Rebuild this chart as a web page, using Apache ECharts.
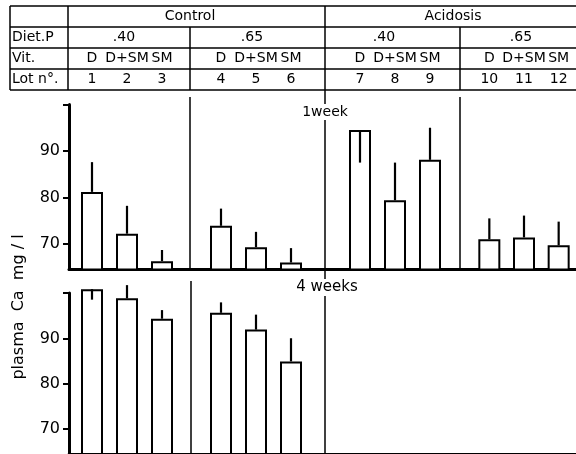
<!DOCTYPE html>
<html><head><meta charset="utf-8">
<script src="https://cdn.jsdelivr.net/npm/echarts@6/dist/echarts.min.js"></script>
<style>html,body{margin:0;padding:0;background:#fff}#c{width:576px;height:454px}</style>
</head><body><div id="c"></div><script>
// ---- data ----
const lots = ['1','2','3','4','5','6','7','8','9','10','11','12'];
const vitamins = ['D','D+SM','SM'];
const dietP = ['.40','.65','.40','.65'];
const treatments = ['Control','Acidosis'];
const rowHeads = ['Diet.P','Vit.','Lot n°.'];
const week1 = [81.2, 72.2, 66.3, 73.9, 69.3, 66.0, 94.5, 79.4, 88.1, 71.0, 71.4, 69.7];
const week1ErrEnd = [87.6, 78.2, 68.7, 77.6, 72.6, 69.1, 87.5, 87.5, 95.0, 75.5, 76.1, 74.8];
const week4 = [100.8, 98.8, 94.3, 95.6, 91.9, 84.9];
const week4ErrEnd = [98.5, 101.7, 96.2, 97.9, 95.2, 90.0];
const yTickLabels = [70, 80, 90];
const yTickMarks = [70, 80, 90, 100];
const panelTitles = ['1week', '4 weeks'];
const yTitle = 'plasma  Ca  mg / l';

// ---- layout ----
const FONT = 'DejaVu Sans';
const YMIN = 64.5, YMAX = 100, YHEAD = 3;
const panels = [{top: 104.5, height: 165}, {top: 293, height: 163}];
const groupLeft = [74.5, 203.5, 342.5, 472];
const groupW = 105;
const rowY = [16.5, 37.5, 58.5, 79.5];

const grid = [], xAxis = [], yAxis = [], series = [];
// frame grids (axis + baseline)
panels.forEach((p, pi) => {
  grid.push({left: 69, top: p.top, width: 540, height: p.height});
  xAxis.push({gridIndex: pi, type: 'value', min: 0, max: 1, axisLine: {show: true, lineStyle: {color: '#000', width: 3}},
    axisTick: {show: false}, axisLabel: {show: false}, splitLine: {show: false}});
  yAxis.push({gridIndex: pi, type: 'value', min: YMIN, max: YMAX,
    axisLine: {show: true, lineStyle: {color: '#000', width: 3}},
    axisTick: {show: true, length: 6, customValues: yTickMarks, lineStyle: {color: '#000', width: 2}},
    axisLabel: {show: true, customValues: yTickLabels, color: '#000', fontSize: 16, fontFamily: FONT, margin: 9},
    splitLine: {show: false}});
});

function errSeries(xi, yi, vals, ends) {
  return {type: 'custom', xAxisIndex: xi, yAxisIndex: yi, clip: false, silent: true, z: 6,
    encode: {x: 0, y: [1, 2]},
    data: vals.map((v, i) => [i, v, ends[i]]),
    renderItem: (params, api) => {
      const p1 = api.coord([api.value(0), api.value(1)]);
      const p2 = api.coord([api.value(0), api.value(2)]);
      return {type: 'line', z2: 10, shape: {x1: p1[0], y1: p1[1], x2: p2[0], y2: p2[1]}, style: {stroke: '#000', lineWidth: 2.2}};
    }};
}

function addGroup(panelIdx, g, vals, ends, withHeader) {
  const gi = grid.length;
  const p = panels[panelIdx];
  const scale = p.height / (YMAX - YMIN);
  const top = p.top - YHEAD * scale, height = p.height + YHEAD * scale;
  grid.push({left: groupLeft[g], top, width: groupW, height});
  const xi = xAxis.length;
  xAxis.push({gridIndex: gi, type: 'category', data: lots.slice(3 * g, 3 * g + 3), position: 'top',
    offset: top - rowY[3], axisLine: {show: false}, axisTick: {show: false},
    axisLabel: {show: withHeader, interval: 0, margin: 0, verticalAlign: 'middle', color: '#000', fontSize: 14, fontFamily: FONT}});
  if (withHeader) {
    xAxis.push({gridIndex: gi, type: 'category', data: vitamins, position: 'bottom',
      offset: rowY[2] - (top + height), axisLine: {show: false}, axisTick: {show: false},
      axisLabel: {show: true, interval: 0, margin: 0, verticalAlign: 'middle', color: '#000', fontSize: 14, fontFamily: FONT}});
  }
  const yi = yAxis.length;
  yAxis.push({gridIndex: gi, type: 'value', min: YMIN, max: YMAX + YHEAD, show: false});
  series.push({type: 'bar', xAxisIndex: xi, yAxisIndex: yi, data: vals, barWidth: 22, silent: true, z: 2,
    itemStyle: {color: '#fff', borderColor: '#000', borderWidth: 2}});
  series.push(errSeries(xi, yi, vals, ends));
}
for (let g = 0; g < 4; g++) addGroup(0, g, week1.slice(3 * g, 3 * g + 3), week1ErrEnd.slice(3 * g, 3 * g + 3), true);
for (let g = 0; g < 2; g++) addGroup(1, g, week4.slice(3 * g, 3 * g + 3), week4ErrEnd.slice(3 * g, 3 * g + 3), false);

// ---- decorations: table, dividers, titles ----
const graphic = [];
const L = (x1, y1, x2, y2, w) => graphic.push({type: 'line', shape: {x1, y1, x2, y2}, style: {stroke: '#000', lineWidth: w || 1.5}, z: 10});
const T = (text, x, y, size, opts) => graphic.push(Object.assign({type: 'text', x, y, z: 20,
  style: Object.assign({text, fill: '#000', font: size + 'px ' + FONT, align: 'center', verticalAlign: 'middle'}, (opts && opts.style) || {})}, (opts && opts.el) || {}));
[6, 27, 48, 69, 90].forEach(y => L(10, y, 580, y));
L(10, 6, 10, 90); L(68, 6, 68, 90); L(190, 27, 190, 90); L(325, 6, 325, 454); L(460, 27, 460, 90);
L(190, 97, 190, 269); L(460, 97, 460, 269); L(191, 281, 191, 454);
T(treatments[0], 190, rowY[0], 14);
T(treatments[1], 453, rowY[0], 14);
[124, 252, 384, 521].forEach((x, i) => T(dietP[i], x, rowY[1], 14));
rowHeads.forEach((h, i) => T(h, 12, rowY[i + 1], 14, {style: {align: 'left'}}));
T(panelTitles[0], 325, 112, 14, {style: {backgroundColor: '#fff', padding: [1, 1]}});
T(panelTitles[1], 327, 287.5, 15, {style: {backgroundColor: '#fff', padding: [1, 1]}});
T(yTitle, 19, 307, 16, {el: {rotation: Math.PI / 2}});

const chart = echarts.init(document.getElementById('c'), null, {renderer: 'canvas'});
chart.setOption({animation: false, backgroundColor: '#fff', grid, xAxis, yAxis, series, graphic});
</script></body></html>
